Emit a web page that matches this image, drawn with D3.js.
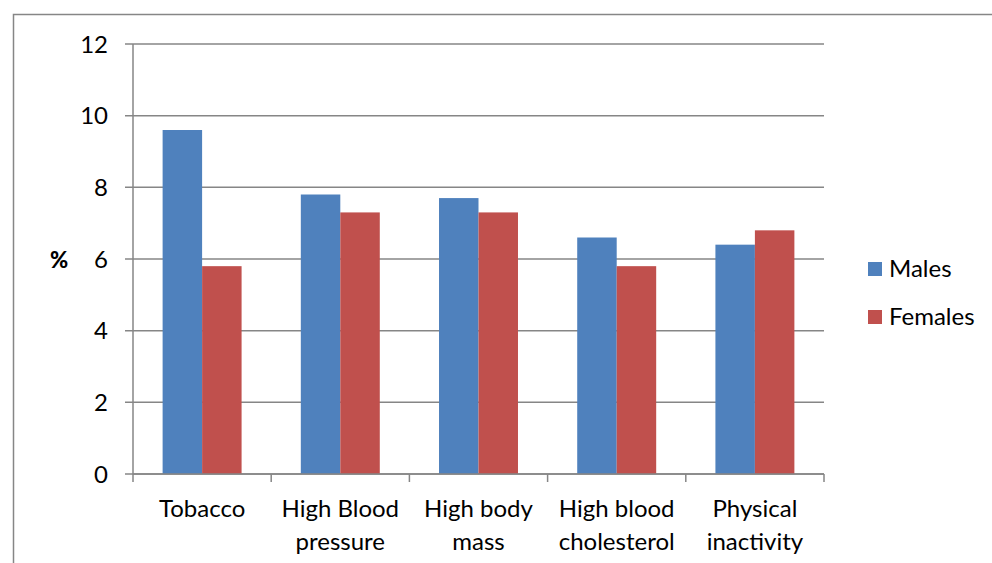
<!DOCTYPE html>
<html>
<head>
<meta charset="utf-8">
<script src="https://cdn.jsdelivr.net/npm/d3@7"></script>
<style>
  body { margin: 0; background: #fff; }
  svg text { font-family: Lato, "Open Sans", sans-serif; fill: #000; }
</style>
</head>
<body>
<svg id="chart" width="992" height="563"></svg>
<script>
// data
var categories = [["Tobacco"], ["High Blood", "pressure"], ["High body", "mass"], ["High blood", "cholesterol"], ["Physical", "inactivity"]];
var series = ["Males", "Females"];
var males = [9.6, 7.8, 7.7, 6.6, 6.4];
var females = [5.8, 7.3, 7.3, 5.8, 6.8];
var yTicks = [0, 2, 4, 6, 8, 10, 12];
var colors = ["#4F81BD", "#C0504D"];

var svg = d3.select("svg#chart");
var plotLeft = 133, plotRight = 824, plotTop = 44, plotBottom = 474;

// outer chart border (runs off the bottom/right edge)
svg.append("rect")
    .attr("x", 13.5).attr("y", 14.5)
    .attr("width", 1000).attr("height", 600)
    .attr("fill", "none").attr("stroke", "#868686").attr("stroke-width", 1.5);

var y = d3.scaleLinear().domain([0, 12]).range([plotBottom, plotTop]);
var x0 = d3.scaleBand().domain(d3.range(categories.length)).range([plotLeft, plotRight]);
var x1 = d3.scaleBand().domain(d3.range(series.length))
    .range([0, x0.bandwidth()]).paddingOuter(0.75).paddingInner(0);

// gridlines
svg.append("g").selectAll("line")
    .data(yTicks)
    .enter().append("line")
    .attr("x1", plotLeft - 8).attr("x2", plotRight)
    .attr("y1", function(d) { return y(d); })
    .attr("y2", function(d) { return y(d); })
    .attr("stroke", "#868686").attr("stroke-width", 1.5);

// y axis line
svg.append("line")
    .attr("x1", plotLeft).attr("x2", plotLeft).attr("y1", plotTop).attr("y2", plotBottom)
    .attr("stroke", "#868686").attr("stroke-width", 1.5);

// y labels
svg.append("g").selectAll("text")
    .data(yTicks)
    .enter().append("text")
    .attr("x", 108).attr("y", function(d) { return y(d); })
    .attr("dy", "0.36em")
    .attr("text-anchor", "end")
    .style("font-size", "24px")
    .text(function(d) { return d; });

svg.append("text")
    .attr("x", 59).attr("y", 260).attr("dy", "0.36em")
    .attr("text-anchor", "middle")
    .style("font-size", "22px").style("font-weight", "900")
    .text("%");

// bars
var rows = categories.map(function(c, i) { return [males[i], females[i]]; });
var groups = svg.append("g").selectAll("g")
    .data(rows)
    .enter().append("g")
    .attr("transform", function(d, i) { return "translate(" + x0(i) + ",0)"; });

groups.selectAll("rect")
    .data(function(d) { return d; })
    .enter().append("rect")
    .attr("x", function(d, j) { return x1(j); })
    .attr("width", x1.bandwidth())
    .attr("y", function(d) { return y(d); })
    .attr("height", function(d) { return plotBottom - y(d); })
    .attr("fill", function(d, j) { return colors[j]; });

// x axis line and ticks
svg.append("line")
    .attr("x1", plotLeft).attr("x2", plotRight).attr("y1", plotBottom).attr("y2", plotBottom)
    .attr("stroke", "#868686").attr("stroke-width", 1.5);
svg.append("g").selectAll("line")
    .data(d3.range(categories.length + 1))
    .enter().append("line")
    .attr("x1", function(i) { return plotLeft + i * x0.step(); })
    .attr("x2", function(i) { return plotLeft + i * x0.step(); })
    .attr("y1", plotBottom).attr("y2", plotBottom + 8)
    .attr("stroke", "#868686").attr("stroke-width", 1.5);

// category labels
var labels = svg.append("g").selectAll("text")
    .data(categories)
    .enter().append("text")
    .attr("text-anchor", "middle")
    .style("font-size", "24px")
    .attr("transform", function(d, i) { return "translate(" + (x0(i) + x0.bandwidth() / 2) + ",517)"; });
labels.selectAll("tspan")
    .data(function(d) { return d; })
    .enter().append("tspan")
    .attr("x", 0)
    .attr("y", function(d, k) { return k * 33; })
    .text(function(d) { return d; });

// legend
var legend = svg.append("g").selectAll("g")
    .data(series)
    .enter().append("g")
    .attr("transform", function(d, i) { return "translate(868," + (262 + i * 48) + ")"; });
legend.append("rect")
    .attr("width", 14).attr("height", 14)
    .attr("fill", function(d, i) { return colors[i]; });
legend.append("text")
    .attr("x", 21).attr("y", 15)
    .style("font-size", "24px")
    .text(function(d) { return d; });
</script>
</body>
</html>
